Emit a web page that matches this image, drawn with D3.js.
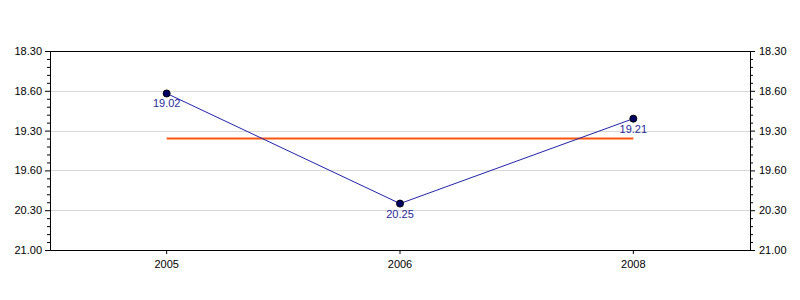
<!DOCTYPE html>
<html>
<head>
<meta charset="utf-8">
<script src="https://cdn.jsdelivr.net/npm/d3@7"></script>
<style>
  body { margin: 0; background: #fff; }
  svg text { font-family: "Liberation Sans", Arial, sans-serif; font-size: 11px; }
</style>
</head>
<body>
<svg id="chart" width="800" height="300"></svg>
<script>
(function (d3) {
    'use strict';

    // times are written as min.sec
    var years = ['2005', '2006', '2008'],
    times = ['19.02', '20.25', '19.21'],
    tickLabels = ['18.30', '18.60', '19.30', '19.60', '20.30', '21.00'],
    tickSeconds = [1110, 1140, 1170, 1200, 1230, 1260];

    var width = 800, height = 300,
    margin = {top: 51, right: 50, bottom: 50, left: 50};

    function toSec(t) {
        var p = t.split('.');
        return (+p[0]) * 60 + (+p[1]);
    }

    var secs = times.map(toSec),
    avg = d3.mean(secs);

    var svg = d3.select('#chart');

    var x = d3.scaleBand()
        .domain(years)
        .range([margin.left, width - margin.right]);

    var y = d3.scaleLinear()
        .domain([tickSeconds[0], tickSeconds[tickSeconds.length - 1]])
        .range([margin.top, height - margin.bottom]);

    function cx(d) { return x(d) + x.bandwidth() / 2; }

    // minor ticks, 5 steps per major interval
    var minor = [];
    for (var i = 0; i < tickSeconds.length - 1; i++) {
        for (var k = 1; k < 5; k++) {
            minor.push(tickSeconds[i] + (tickSeconds[i + 1] - tickSeconds[i]) * k / 5);
        }
    }

    // grid
    svg.append('g')
        .selectAll('line')
        .data(tickSeconds.slice(1, -1))
        .enter()
        .append('line')
        .attr('x1', margin.left)
        .attr('x2', width - margin.right)
        .attr('y1', function (d) { return Math.round(y(d)) + 0.5; })
        .attr('y2', function (d) { return Math.round(y(d)) + 0.5; })
        .style('stroke', '#d8d8d8');

    var fmt = function (d) { return tickLabels[tickSeconds.indexOf(d)]; };

    var left = svg.append('g')
        .attr('transform', 'translate(' + margin.left + ',0)')
        .call(d3.axisLeft(y).tickValues(tickSeconds).tickFormat(fmt).tickSize(5).tickSizeOuter(0).tickPadding(3));
    left.append('g')
        .call(d3.axisLeft(y).tickValues(minor).tickFormat('').tickSize(3).tickSizeOuter(0));

    var right = svg.append('g')
        .attr('transform', 'translate(' + (width - margin.right) + ',0)')
        .call(d3.axisRight(y).tickValues(tickSeconds).tickFormat(fmt).tickSize(5).tickSizeOuter(0).tickPadding(4));
    right.append('g')
        .call(d3.axisRight(y).tickValues(minor).tickFormat('').tickSize(3).tickSizeOuter(0));

    svg.append('g')
        .attr('transform', 'translate(0,' + (height - margin.bottom) + ')')
        .call(d3.axisBottom(x).tickSize(4).tickSizeOuter(0).tickPadding(6));

    // top border
    svg.append('line')
        .attr('x1', margin.left)
        .attr('x2', width - margin.right)
        .attr('y1', margin.top + 0.5)
        .attr('y2', margin.top + 0.5)
        .style('stroke', '#000');

    svg.selectAll('.tick line, .domain').style('stroke', '#000');
    svg.selectAll('.tick text').style('fill', '#000').style('font-size', '11px');

    // mean line
    svg.append('line')
        .attr('x1', cx(years[0]))
        .attr('x2', cx(years[years.length - 1]))
        .attr('y1', y(avg))
        .attr('y2', y(avg))
        .style('stroke', '#ff5511')
        .style('stroke-width', 2);

    var line = d3.line()
        .x(function (d, i) { return cx(years[i]); })
        .y(function (d) { return y(d); });

    svg.append('path')
        .datum(secs)
        .attr('d', line)
        .style('fill', 'none')
        .style('stroke', '#2222aa')
        .style('stroke-width', 1);

    svg.selectAll('.pt')
        .data(secs)
        .enter()
        .append('circle')
        .attr('class', 'pt')
        .attr('r', 3.5)
        .attr('cx', function (d, i) { return cx(years[i]); })
        .attr('cy', function (d) { return y(d); })
        .style('fill', '#000066')
        .style('stroke', '#000');

    svg.selectAll('.lbl')
        .data(times)
        .enter()
        .append('text')
        .attr('class', 'lbl')
        .attr('x', function (d, i) { return cx(years[i]); })
        .attr('y', function (d, i) { return y(secs[i]) + 14; })
        .attr('text-anchor', 'middle')
        .style('fill', '#2a2a9a')
        .text(function (d) { return d; });
})(d3);
</script>
</body>
</html>
